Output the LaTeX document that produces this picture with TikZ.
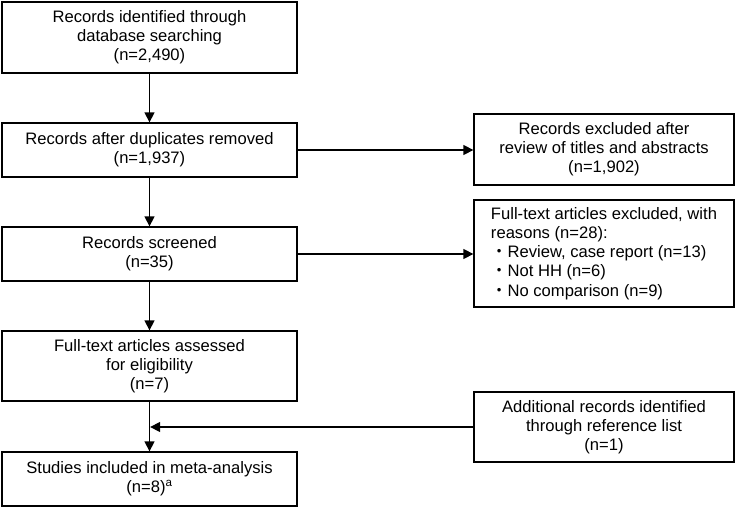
\documentclass[tikz,border=0pt]{standalone}
\usepackage{fontspec}
\setmainfont{Liberation Sans}
\newfontfamily\cjk{Noto Sans CJK JP}
\usetikzlibrary{arrows.meta}
\tikzset{
  box/.style={draw=black, line width=1.3pt, fill=white, align=center, inner sep=0pt,
    font=\fontsize{16.6}{19.2}\selectfont},
  leftbox/.style={box, minimum width=295pt},
  rightbox/.style={box, minimum width=260pt},
  conn/.style={line width=1.3pt, -{Triangle[length=10pt,width=10pt]}}
}
\begin{document}
\begin{tikzpicture}[x=1pt,y=-1pt]
\useasboundingbox (0,0) rectangle (735,508);
\node[leftbox, minimum height=71pt] (b1) at (149.5,37.5) {Records identified through\\database searching\\(n=2,490)};
\node[leftbox, minimum height=54pt] (b2) at (149.5,150) {Records after duplicates removed\\(n=1,937)};
\node[rightbox, minimum height=71pt] (b3) at (604,149.5) {Records excluded after\\review of titles and abstracts\\(n=1,902)};
\node[leftbox, minimum height=54pt] (scr) at (149.5,254) {Records screened\\(n=35)};
\node[rightbox, minimum height=107pt, align=left] (b4) at (604,253.5) {Full-text articles excluded, with\\reasons (n=28):\\{\cjk ・}Review, case report (n=13)\\{\cjk ・}Not HH (n=6)\\{\cjk ・}No comparison (n=9)};
\node[leftbox, minimum height=70pt] (ft) at (149.5,366) {Full-text articles assessed\\for eligibility\\(n=7)};
\node[rightbox, minimum height=70pt] (add) at (604,427) {Additional records identified\\through reference list\\(n=1)};
\node[leftbox, minimum height=54pt] (st) at (149.5,479) {Studies included in meta-analysis\\(n=8)\textsuperscript{a}};
\draw[conn] (b1) -- (b2);
\draw[conn] (b2.east) -- (b2.east -| b3.west);
\draw[conn] (b2) -- (scr);
\draw[conn] (scr.east) -- (scr.east -| b4.west);
\draw[conn] (scr) -- (ft);
\draw[conn] (ft) -- (st);
\draw[conn] (add.west) -- ([xshift=0.65pt]add.west -| ft.south);
\end{tikzpicture}
\end{document}
